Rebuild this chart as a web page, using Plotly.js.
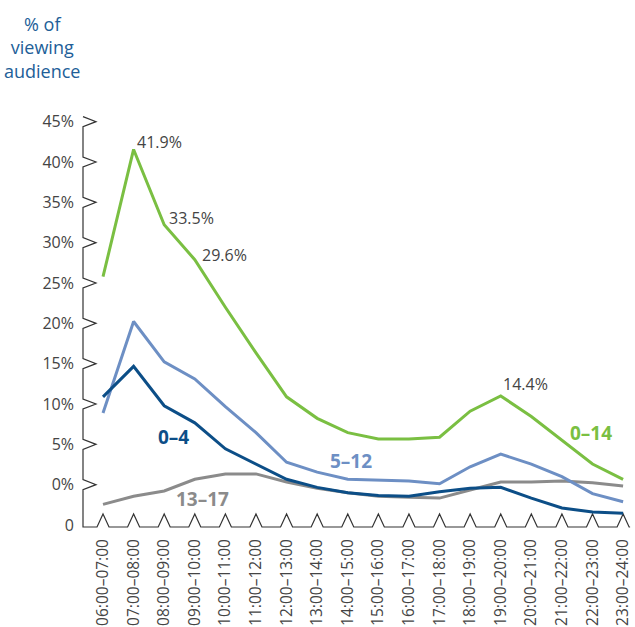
<!DOCTYPE html>
<html>
<head>
<meta charset="utf-8">
<script src="https://cdn.plot.ly/plotly-3.0.1.min.js"></script>
<style>html,body{margin:0;padding:0;background:#fff;}#chart{width:635px;height:627px;}</style>
</head>
<body>
<div id="chart"></div>
<script>
const categories = ['06:00–07:00','07:00–08:00','08:00–09:00','09:00–10:00','10:00–11:00','11:00–12:00',
  '12:00–13:00','13:00–14:00','14:00–15:00','15:00–16:00','16:00–17:00','17:00–18:00',
  '18:00–19:00','19:00–20:00','20:00–21:00','21:00–22:00','22:00–23:00','23:00–24:00'];
const age0to14  = [27.7, 41.9, 33.5, 29.6, 24.3, 19.2, 14.3, 11.9, 10.3, 9.6, 9.6, 9.8, 12.7, 14.4, 12.1, 9.5, 6.8, 5.1];
const age0to4   = [14.3, 17.7, 13.3, 11.4, 8.5, 6.8, 5.1, 4.2, 3.6, 3.3, 3.2, 3.7, 4.1, 4.2, 3.0, 1.9, 1.45, 1.3];
const age5to12  = [12.5, 22.7, 18.2, 16.3, 13.2, 10.3, 7.0, 5.9, 5.1, 5.0, 4.9, 4.6, 6.5, 7.9, 6.8, 5.4, 3.5, 2.6];
const age13to17 = [2.3, 3.2, 3.8, 5.1, 5.7, 5.7, 4.8, 4.1, 3.6, 3.2, 3.1, 3.0, 3.9, 4.8, 4.8, 4.9, 4.7, 4.35];
const yTickValues = [0, 4.5, 9, 13.5, 18, 22.5, 27, 31.5, 36, 40.5, 45];
const yTickText = ['0', '0%', '5%', '10%', '15%', '20%', '25%', '30%', '35%', '40%', '45%'];
const labelledPoints = [1, 2, 3, 13];   // indices of 0–14 values that carry a value label

const xIdx = categories.map((_, i) => i);
const FONT = 'Open Sans, Noto Sans, sans-serif';
const W = 545, H = 417;
const xr = [-0.654, 17.16], yr = [-0.223, 46.3];
const xp = x => (x - xr[0]) / (xr[1] - xr[0]);
const yp = y => (y - yr[0]) / (yr[1] - yr[0]);

// decorative zig-zag axes
let pts = [];
const ticksDown = yTickValues.filter(v => v > 0).slice().reverse();
ticksDown.forEach(v => {
  pts.push([0, yp(v) + 5 / H], [13 / W, yp(v)], [0, yp(v) - 5 / H]);
});
pts.push([0, 0]);
xIdx.forEach(i => {
  pts.push([xp(i) - 6 / W, 0], [xp(i), 13 / H], [xp(i) + 6 / W, 0]);
});
pts.push([xp(17) + 7 / W, 0]);
const path = pts.map((p, k) => (k ? 'L' : 'M') + p[0].toFixed(5) + ',' + p[1].toFixed(5)).join(' ');

const mk = (y, color, name) => ({
  x: xIdx, y: y, type: 'scatter', mode: 'lines', name: name,
  line: {color: color, width: 3}, hoverinfo: 'skip'
});
const cGreen = '#7abf42', cDark = '#0c4e87', cLight = '#6d8fc4', cGray = '#8b8b8b';
const data = [
  mk(age13to17, cGray, '13–17'),
  mk(age5to12, cLight, '5–12'),
  mk(age0to4, cDark, '0–4'),
  mk(age0to14, cGreen, '0–14')
];

const labelShift = {1: [1, 7], 2: [3, 7], 3: [5, 5], 13: [0, 12]};
const annotations = [
  {xref: 'paper', yref: 'paper', x: (42 - 83) / W, y: (527 - 10) / H, xanchor: 'center', yanchor: 'top',
   text: '% of<br>viewing<br>audience', showarrow: false, align: 'center',
   font: {family: FONT, size: 18, color: '#215e98', lineposition: 'none'}}
];
labelledPoints.forEach(i => {
  annotations.push({x: i, y: age0to14[i], xref: 'x', yref: 'y', text: age0to14[i].toFixed(1) + '%',
    showarrow: false, xanchor: 'left', yanchor: 'middle', xshift: labelShift[i][0], yshift: labelShift[i][1],
    font: {family: FONT, size: 16, color: '#444444'}});
});
const seriesLabels = [
  {text: '0–4', x: 2.32, y: 9.82, color: cDark},
  {text: '5–12', x: 8.11, y: 7.14, color: cLight},
  {text: '13–17', x: 3.24, y: 2.9, color: cGray},
  {text: '0–14', x: 15.95, y: 10.27, color: cGreen}
];
seriesLabels.forEach(s => annotations.push({x: s.x, y: s.y, xref: 'x', yref: 'y', text: s.text, showarrow: false,
  xanchor: 'center', yanchor: 'middle', font: {family: FONT, size: 19, color: s.color, weight: 700}}));

const layout = {
  width: 635, height: 627,
  margin: {l: 83, r: 7, t: 110, b: 100},
  paper_bgcolor: '#fff', plot_bgcolor: '#fff',
  showlegend: false,
  font: {family: FONT},
  xaxis: {type: 'linear', range: xr, tickvals: xIdx, ticktext: categories, tickangle: -90,
    showgrid: false, zeroline: false, showline: false, ticks: '', ticklabelstandoff: 8,
    tickfont: {family: FONT, size: 15.5, color: '#444444'}, fixedrange: true},
  yaxis: {range: yr, tickvals: yTickValues, ticktext: yTickText, showgrid: false, zeroline: false,
    showline: false, ticks: '', ticklabelstandoff: 8,
    tickfont: {family: FONT, size: 16, color: '#444444'}, fixedrange: true},
  shapes: [{type: 'path', xref: 'paper', yref: 'paper', path: path, line: {color: '#333333', width: 1.2}, layer: 'below'}],
  annotations: annotations
};
Plotly.newPlot('chart', data, layout, {displayModeBar: false, staticPlot: true});
</script>
</body>
</html>
